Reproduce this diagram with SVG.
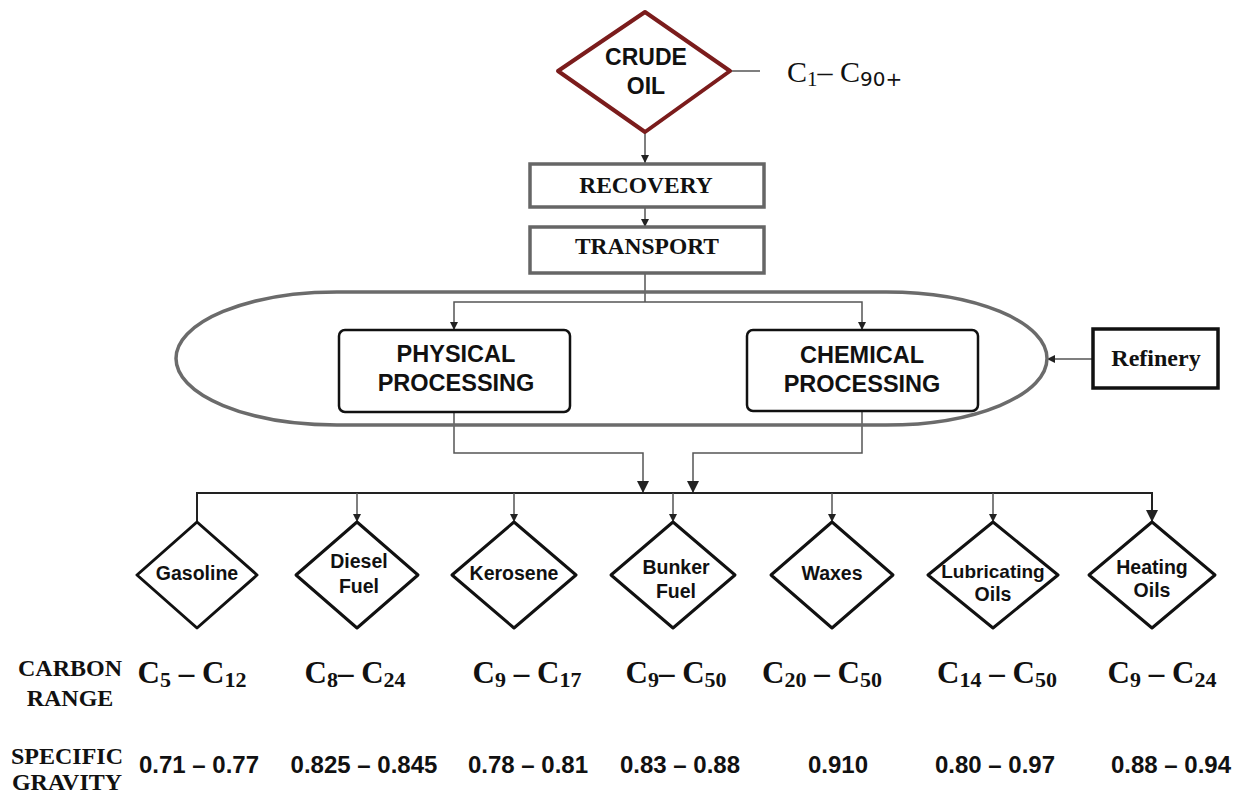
<svg xmlns="http://www.w3.org/2000/svg" width="1240" height="796" viewBox="0 0 1240 796">
<defs>
<style>
.sans{font-family:"Liberation Sans",Arial,sans-serif;font-weight:bold;fill:#111}
.serif{font-family:"Liberation Serif","Times New Roman",serif;font-weight:bold;fill:#111}
.serifr{font-family:"Liberation Serif","Times New Roman",serif;fill:#111}
.dia{fill:#fff;stroke:#111;stroke-width:3;stroke-linejoin:round}
.gbox{fill:#fff;stroke:#666;stroke-width:3.5}
.conn{fill:none;stroke:#555;stroke-width:1.5}
.connb{fill:none;stroke:#222;stroke-width:2}
</style>
<marker id="arr" viewBox="0 0 10 10" refX="10" refY="5" markerWidth="8" markerHeight="8" markerUnits="userSpaceOnUse" orient="auto">
<path d="M0,0 L10,5 L0,10 Z" fill="#222"/>
</marker>
<marker id="arrL" viewBox="0 0 10 10" refX="10" refY="5" markerWidth="12" markerHeight="12" markerUnits="userSpaceOnUse" orient="auto">
<path d="M0,0 L10,5 L0,10 Z" fill="#222"/>
</marker>
</defs>
<rect width="1240" height="796" fill="#fff"/>

<g id="connectors">
<line class="conn" x1="730" y1="71" x2="760" y2="71"/>
<line class="conn" x1="645" y1="132" x2="645" y2="163" marker-end="url(#arr)"/>
<line class="conn" x1="645" y1="207" x2="645" y2="227" marker-end="url(#arr)"/>
<polyline class="conn" points="645,273 645,302"/>
<polyline class="conn" points="645,302 454,302 454,330" marker-end="url(#arr)"/>
<polyline class="conn" points="645,302 862,302 862,330" marker-end="url(#arr)"/>
<line class="conn" x1="1093" y1="359" x2="1047" y2="359" marker-end="url(#arr)"/>
<polyline class="conn" points="454,412 454,453 643,453 643,493" marker-end="url(#arrL)"/>
<polyline class="conn" points="862,411 862,453 693,453 693,493" marker-end="url(#arrL)"/>
<polyline class="connb" points="197,522 197,493 1152,493 1152,522" marker-end="url(#arrL)"/>
<line class="conn" x1="357" y1="493" x2="357" y2="522" marker-end="url(#arr)"/>
<line class="conn" x1="514" y1="493" x2="514" y2="522" marker-end="url(#arr)"/>
<line class="conn" x1="673" y1="493" x2="673" y2="522" marker-end="url(#arr)"/>
<line class="conn" x1="832" y1="493" x2="832" y2="522" marker-end="url(#arr)"/>
<line class="conn" x1="993" y1="493" x2="993" y2="522" marker-end="url(#arr)"/>
</g>

<g id="crude-oil">
<polygon points="645,12 730,71 645,132 558,71" fill="#fff" stroke="#7b1c1c" stroke-width="4" stroke-linejoin="round"/>
<text class="sans" x="646" y="65" font-size="23" text-anchor="middle">CRUDE</text>
<text class="sans" x="646" y="94" font-size="23" text-anchor="middle">OIL</text>
</g>
<g id="crude-range">
<text class="serifr" x="787" y="82" font-size="30">C<tspan font-size="21" dy="4">1</tspan><tspan dy="-4">– C</tspan><tspan font-size="20" dy="4" font-family="DejaVu Sans, sans-serif">90+</tspan></text>
</g>

<g id="recovery">
<rect class="gbox" x="530" y="164" width="234" height="43"/>
<text class="serif" x="646" y="193" font-size="23.5" text-anchor="middle">RECOVERY</text>
</g>
<g id="transport">
<rect class="gbox" x="530" y="227" width="234" height="46"/>
<text class="serif" x="647" y="254" font-size="23.5" text-anchor="middle">TRANSPORT</text>
</g>

<g id="refinery-zone">
<path d="M337,292 H886 A161,66.5 0 0 1 886,425 H337 A161,66.5 0 0 1 337,292 Z" fill="none" stroke="#6b6b6b" stroke-width="3.5"/>
</g>

<g id="physical">
<rect x="339" y="330" width="231" height="82" rx="6" fill="#fff" stroke="#111" stroke-width="2.5"/>
<text class="sans" x="456" y="362" font-size="23.5" text-anchor="middle">PHYSICAL</text>
<text class="sans" x="456" y="391" font-size="23.5" text-anchor="middle">PROCESSING</text>
</g>
<g id="chemical">
<rect x="747" y="330" width="231" height="81" rx="6" fill="#fff" stroke="#111" stroke-width="2.5"/>
<text class="sans" x="862" y="363" font-size="23.5" text-anchor="middle">CHEMICAL</text>
<text class="sans" x="862" y="392" font-size="23.5" text-anchor="middle">PROCESSING</text>
</g>
<g id="refinery">
<rect x="1093" y="329" width="125" height="59" fill="#fff" stroke="#111" stroke-width="3.5"/>
<text class="serif" x="1156" y="366" font-size="24" text-anchor="middle">Refinery</text>
</g>

<g id="gasoline">
<polygon class="dia" points="197,522 257,575 197,628 137,575"/>
<text class="sans" x="197" y="580" font-size="19.5" text-anchor="middle">Gasoline</text>
</g>
<g id="diesel">
<polygon class="dia" points="357,522 418,575 357,628 296,575"/>
<text class="sans" x="359" y="568" font-size="19.5" text-anchor="middle">Diesel</text>
<text class="sans" x="359" y="593" font-size="19.5" text-anchor="middle">Fuel</text>
</g>
<g id="kerosene">
<polygon class="dia" points="514,522 576,575 514,628 452,575"/>
<text class="sans" x="514" y="580" font-size="19.5" text-anchor="middle">Kerosene</text>
</g>
<g id="bunker">
<polygon class="dia" points="673,522 735,575 673,628 611,575"/>
<text class="sans" x="676" y="574" font-size="19.5" text-anchor="middle">Bunker</text>
<text class="sans" x="676" y="598" font-size="19.5" text-anchor="middle">Fuel</text>
</g>
<g id="waxes">
<polygon class="dia" points="832,522 893,575 832,628 771,575"/>
<text class="sans" x="832" y="580" font-size="19.5" text-anchor="middle">Waxes</text>
</g>
<g id="lubricating">
<polygon class="dia" points="993,522 1058,575 993,628 928,575"/>
<text class="sans" x="993" y="578" font-size="19" text-anchor="middle">Lubricating</text>
<text class="sans" x="993" y="601" font-size="19.5" text-anchor="middle">Oils</text>
</g>
<g id="heating">
<polygon class="dia" points="1152,522 1215,575 1152,628 1089,575"/>
<text class="sans" x="1152" y="574" font-size="19.5" text-anchor="middle">Heating</text>
<text class="sans" x="1152" y="597" font-size="19.5" text-anchor="middle">Oils</text>
</g>

<g id="carbon-range">
<text class="serif" x="70" y="676" font-size="24" text-anchor="middle">CARBON</text>
<text class="serif" x="70" y="706" font-size="24" text-anchor="middle">RANGE</text>
<g class="serif" font-size="31" text-anchor="middle">
<text x="192" y="683">C<tspan font-size="22" dy="4">5</tspan><tspan dy="-4"> – C</tspan><tspan font-size="22" dy="4">12</tspan></text>
<text x="355" y="683">C<tspan font-size="22" dy="4">8</tspan><tspan dy="-4">– C</tspan><tspan font-size="22" dy="4">24</tspan></text>
<text x="527" y="683">C<tspan font-size="22" dy="4">9</tspan><tspan dy="-4"> – C</tspan><tspan font-size="22" dy="4">17</tspan></text>
<text x="676" y="683">C<tspan font-size="22" dy="4">9</tspan><tspan dy="-4">– C</tspan><tspan font-size="22" dy="4">50</tspan></text>
<text x="822" y="683">C<tspan font-size="22" dy="4">20</tspan><tspan dy="-4"> – C</tspan><tspan font-size="22" dy="4">50</tspan></text>
<text x="997" y="683">C<tspan font-size="22" dy="4">14</tspan><tspan dy="-4"> – C</tspan><tspan font-size="22" dy="4">50</tspan></text>
<text x="1162" y="683">C<tspan font-size="22" dy="4">9</tspan><tspan dy="-4"> – C</tspan><tspan font-size="22" dy="4">24</tspan></text>
</g>
</g>

<g id="specific-gravity">
<text class="serif" x="67" y="764" font-size="24" text-anchor="middle">SPECIFIC</text>
<text class="serif" x="67" y="790" font-size="24" text-anchor="middle">GRAVITY</text>
<g class="sans" font-size="24" text-anchor="middle">
<text x="199" y="773">0.71 – 0.77</text>
<text x="364" y="773">0.825 – 0.845</text>
<text x="528" y="773">0.78 –  0.81</text>
<text x="680" y="773">0.83 – 0.88</text>
<text x="838" y="773">0.910</text>
<text x="995" y="773">0.80 – 0.97</text>
<text x="1171" y="773">0.88 – 0.94</text>
</g>
</g>
</svg>
